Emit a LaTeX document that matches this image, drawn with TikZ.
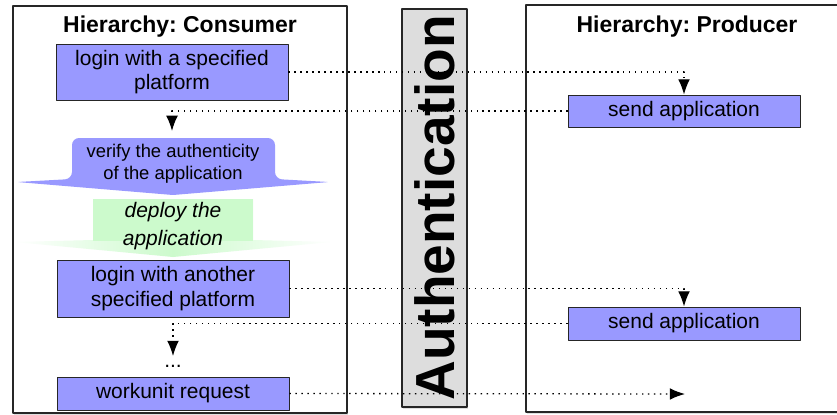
\documentclass[tikz,border=0pt]{standalone}
\usepackage{fontspec}
\setmainfont{Liberation Sans}
\frenchspacing
\usetikzlibrary{arrows.meta,shadows}
\definecolor{taskblue}{RGB}{153,153,255}
\definecolor{deploygreen}{RGB}{204,250,204}
\definecolor{authgray}{RGB}{221,221,221}
\begin{document}
\begin{tikzpicture}[x=0.03cm, y=-0.03cm, line join=round,
	font=\fontsize{17.9}{21}\selectfont,
	panel/.style={draw=black!85, line width=0.9pt, fill=white, drop shadow={shadow xshift=0.6pt, shadow yshift=-1.5pt, opacity=0.25}},
	task/.style={draw=black!85, line width=0.8pt, fill=taskblue, minimum width=6.96cm, align=center, inner sep=1pt},
	title/.style={font=\bfseries\fontsize{19.6}{22}\selectfont},
	msg/.style={-{Latex[length=13pt,width=10pt]}, line width=1.1pt, dash pattern=on 1.2pt off 3.9pt}]
	\useasboundingbox (0,0) rectangle (837,414);
	\draw[panel] (13,6) rectangle (347,413);
	\draw[panel] (526,5) rectangle (860,412);
	\node (constitle) at (180,27) [title]{Hierarchy: Consumer};
	\node (prodtitle) at (687,27) [title]{Hierarchy: Producer};
	\node (auth) at (434.5,208) [rotate=90, draw=black!85, line width=0.9pt, fill=authgray, minimum width=11.94cm, minimum height=1.95cm, inner sep=0pt, drop shadow={shadow xshift=0.6pt, shadow yshift=-1.5pt, opacity=0.25}, font=\bfseries\fontsize{47}{50}\selectfont]{Authentication};
	\node (login1) at (172,72) [task, minimum height=1.68cm]{login with a specified\\platform};
	\fill[taskblue] (173,138) [rounded corners=6pt] -- (275,138) -- (275,179) [rounded corners=2pt] -- (329,182) -- (173,195) -- (17,182) [rounded corners=6pt] -- (72,179) -- (72,138) -- cycle;
	\coordinate (vtop) at (172,138);
	\node (verify) at (173,164) [align=center, font=\fontsize{15.7}{18.8}\selectfont]{verify the authenticity\\of the application};
	\shade[left color=white, right color=white, middle color=deploygreen] (15,242) -- (93,240) -- (93,199) -- (253,199) -- (253,240) -- (331,242) -- (173,257) -- cycle;
	\fill[deploygreen] (93,199) rectangle (253,241);
	\node (deploy) at (173,226) [align=center, font=\itshape\fontsize{17.9}{24}\selectfont]{deploy the\\application};
	\node (login2) at (173,288.5) [task, minimum height=1.71cm]{login with another\\specified platform};
	\node (more) at (173,366) {...};
	\node (request) at (173,393.5) [task, minimum height=0.99cm]{workunit request};
	\node (send1) at (684,111) [task, minimum height=0.96cm]{send application};
	\node (send2) at (684,323.5) [task, minimum height=0.99cm]{send application};
	\coordinate (reqend) at (685,394);
	\draw[msg] (login1.east) -| (send1.north);
	\draw[msg, shorten >=6pt] (send1.west) -| (vtop);
	\draw[msg] (login2.east) -| (send2.north);
	\draw[msg, shorten >=4pt] (send2.west) -| (more.north);
	\draw[msg] (request.east) -- (reqend);
\end{tikzpicture}
\end{document}
